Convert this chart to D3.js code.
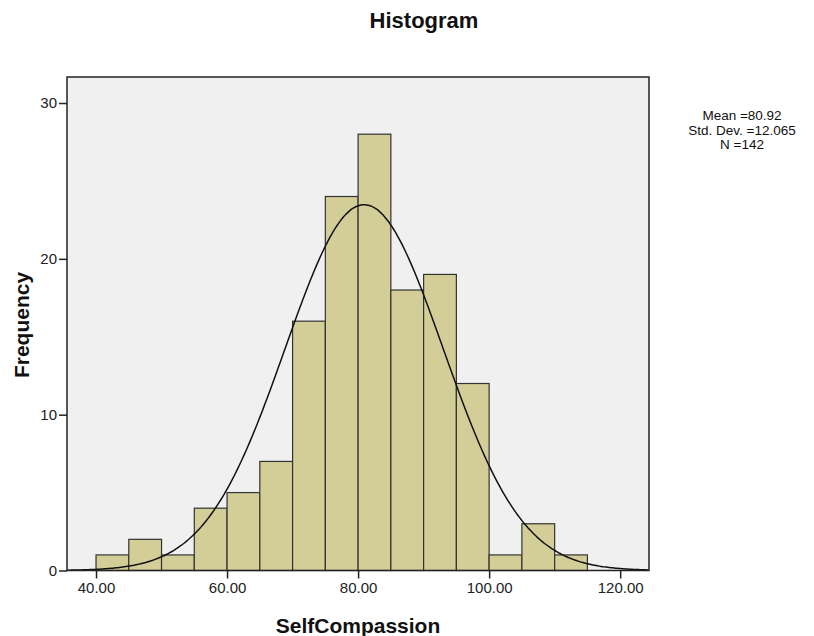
<!DOCTYPE html>
<html><head><meta charset="utf-8">
<script src="https://cdn.jsdelivr.net/npm/d3@7"></script>
<style>body{margin:0;background:#fff;}svg{display:block;font-family:"Liberation Sans",Arial,sans-serif;}</style>
</head><body>
<script>
const binStarts = [40,45,50,55,60,65,70,75,80,85,90,95,100,105,110];
const binWidth = 5;
const counts = [1,2,1,4,5,7,16,24,28,18,19,12,1,3,1];
const xTicks = [40,60,80,100,120];
const yTicks = [0,10,20,30];
const stats = {mean:80.92, sd:12.065, n:142};
const statLines = ["Mean =80.92","Std. Dev. =12.065","N =142"];

const W=814,H=636;
const L=67,R=649,T=77,B=570.5;
const svg=d3.select("body").append("svg").attr("width",W).attr("height",H);
const x=d3.scaleLinear().domain([35.57,124.4]).range([L,R]);
const y=d3.scaleLinear().domain([0,31.67]).range([B,T]);

svg.append("rect").attr("x",L).attr("y",T).attr("width",R-L).attr("height",B-T).attr("fill","#f0f0f0");

svg.append("g").selectAll("rect").data(binStarts).join("rect")
  .attr("x",(d)=>x(d)).attr("width",(d)=>x(d+binWidth)-x(d))
  .attr("y",(d,i)=>y(counts[i])).attr("height",(d,i)=>y(0)-y(counts[i]))
  .attr("fill","#d3ce97").attr("stroke","#333").attr("stroke-width",1.2);

const pts=d3.range(35.57,124.41,0.25).map(v=>[v, stats.n*binWidth*Math.exp(-0.5*((v-stats.mean)/stats.sd)**2)/(stats.sd*Math.sqrt(2*Math.PI))]);
svg.append("path").datum(pts).attr("d",d3.line().x(d=>x(d[0])).y(d=>y(d[1])).curve(d3.curveBasis))
  .attr("fill","none").attr("stroke","#111").attr("stroke-width",1.5);

svg.append("rect").attr("x",L).attr("y",T).attr("width",R-L).attr("height",B-T).attr("fill","none").attr("stroke","#222").attr("stroke-width",1.5);

const xa=svg.append("g").attr("transform",`translate(0,${B})`)
  .call(d3.axisBottom(x).tickValues(xTicks).tickFormat(d3.format(".2f")).tickSize(8).tickPadding(4));
const ya=svg.append("g").attr("transform",`translate(${L},0)`)
  .call(d3.axisLeft(y).tickValues(yTicks).tickSize(8).tickPadding(2));
[xa,ya].forEach(a=>{a.select(".domain").remove();a.selectAll("line").attr("stroke","#222").attr("stroke-width",1.5);
  a.selectAll("text").attr("font-size",15).attr("fill","#222").attr("font-family","Liberation Sans, Arial, sans-serif");});

svg.append("text").attr("x",424).attr("y",28).attr("text-anchor","middle").attr("font-size",22).attr("font-weight","bold").attr("fill","#111").text("Histogram");
svg.append("text").attr("x",358).attr("y",633).attr("text-anchor","middle").attr("font-size",21).attr("font-weight","bold").attr("fill","#111").text("SelfCompassion");
svg.append("text").attr("transform","translate(29,325) rotate(-90)").attr("text-anchor","middle").attr("font-size",21).attr("font-weight","bold").attr("fill","#111").text("Frequency");

svg.append("g").selectAll("text").data(statLines).join("text")
  .attr("x",742).attr("y",(d,i)=>120+i*14.5).attr("text-anchor","middle").attr("font-size",13.5).attr("fill","#111").text(d=>d);
</script>
</body></html>
